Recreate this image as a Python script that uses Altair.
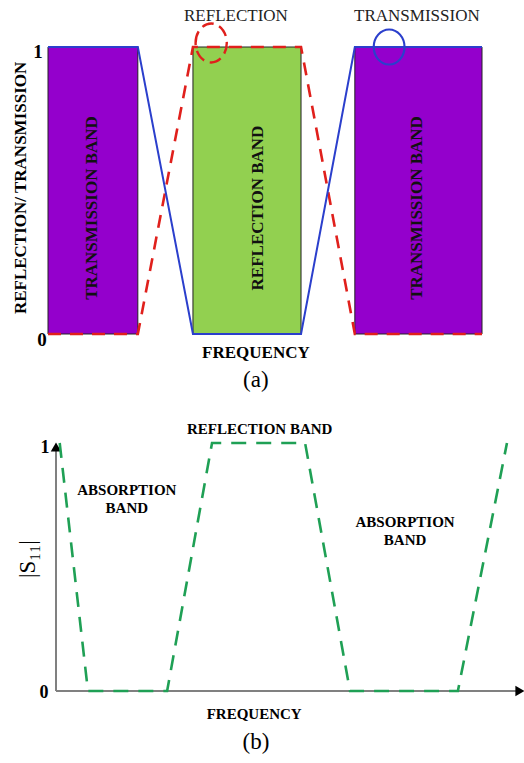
import altair as alt
import pandas as pd

FONT = "Liberation Serif"

# ---------- panel (a) data ----------
freq_a = [0, 2.07, 3.34, 5.83, 7.07, 10]
transmission = [1, 1, 0, 0, 1, 1]
reflection = [0, 0, 1, 1, 0, 0]

band_start = [0, 3.34, 7.07]
band_end = [2.07, 5.83, 10]
band_label = ["TRANSMISSION BAND", "REFLECTION BAND", "TRANSMISSION BAND"]
band_label_x = [1.01, 4.84, 8.50]
band_color = ["#9400CC", "#92D050", "#9400CC"]

# ---------- panel (b) data ----------
freq_b = [0.08, 0.69, 2.4, 3.37, 5.38, 6.35, 8.68, 9.74]
s11 = [1, 0, 0, 1, 1, 0, 0, 1]

# scales (data units -> panel areas)
sxa = alt.Scale(domain=[0, 10], range=[48, 482], nice=False, zero=False)
sya = alt.Scale(domain=[0, 1], range=[334, 47], nice=False, zero=False)
sxb = alt.Scale(domain=[0, 10], range=[56, 519], nice=False, zero=False)
syb = alt.Scale(domain=[0, 1], range=[691, 443], nice=False, zero=False)


def X(field, s):
    return alt.X(field, type="quantitative", scale=s, axis=None)


def Y(field, s):
    return alt.Y(field, type="quantitative", scale=s, axis=None)


def text_layer(df, sx, sy, size, weight="bold", angle=0, color="black", baseline="middle"):
    kw = dict(font=FONT, fontSize=size, fontWeight=weight, color=color,
              align="center", baseline=baseline)
    if angle:
        kw["angle"] = angle
    return alt.Chart(df).mark_text(**kw).encode(
        x=X("x", sx), y=Y("y", sy), text="t:N")


df_bands = pd.DataFrame({"x0": band_start, "x1": band_end, "lab": band_label,
                         "lx": band_label_x, "c": band_color})
df_bands["y0"] = 0
df_bands["y1"] = 1

df_a = pd.DataFrame({"f": freq_a, "tr": transmission, "re": reflection,
                     "o": list(range(len(freq_a)))})
df_b = pd.DataFrame({"f": freq_b, "s": s11, "o": list(range(len(freq_b)))})

rects = alt.Chart(df_bands).mark_rect(stroke="#222222", strokeWidth=1).encode(
    x=X("x0", sxa), x2="x1", y=Y("y0", sya), y2="y1",
    color=alt.Color("c:N", scale=None))

band_text = alt.Chart(df_bands).mark_text(
    font=FONT, fontSize=17, fontWeight="bold", angle=270, color="#111111",
    align="center", baseline="middle").encode(
    x=X("lx", sxa), y=alt.Y("ly:Q", scale=sya, axis=None), text="lab:N"
).transform_calculate(ly="0.439")

red_line = alt.Chart(df_a).mark_line(color="#E0201C", strokeWidth=2.6,
                                     strokeDash=[13, 9]).encode(
    x=X("f", sxa), y=Y("re", sya), order="o:Q")
blue_line = alt.Chart(df_a).mark_line(color="#2B3FCC", strokeWidth=2).encode(
    x=X("f", sxa), y=Y("tr", sya), order="o:Q")

ell_red = "M -0.8 0 A 0.8 1 0 1 1 0.8 0 A 0.8 1 0 1 1 -0.8 0 Z"
ell_blue = "M -0.88 0 A 0.88 1 0 1 1 0.88 0 A 0.88 1 0 1 1 -0.88 0 Z"
red_circ = alt.Chart(pd.DataFrame({"x": [3.76], "y": [1.014]})).mark_point(
    shape=ell_red, size=1520, filled=False, color="#E0201C", strokeWidth=2.4,
    strokeDash=[12, 6], opacity=1).encode(x=X("x", sxa), y=Y("y", sya))
blue_circ = alt.Chart(pd.DataFrame({"x": [7.86], "y": [1.0]})).mark_point(
    shape=ell_blue, size=1225, filled=False, color="#2B3FCC", strokeWidth=2.2,
    opacity=1).encode(x=X("x", sxa), y=Y("y", sya))

top_labels = text_layer(pd.DataFrame({"x": [4.33, 8.50], "y": [1.108, 1.108],
                                      "t": ["REFLECTION", "TRANSMISSION"]}),
                        sxa, sya, 17, weight="normal", color="#222222")
ytitle_a = text_layer(pd.DataFrame({"x": [-0.622], "y": [0.509],
                                    "t": ["REFLECTION/ TRANSMISSION"]}),
                      sxa, sya, 17, angle=270)
yticks_a = text_layer(pd.DataFrame({"x": [-0.23, -0.14], "y": [0.981, -0.021],
                                    "t": ["1", "0"]}), sxa, sya, 19)
xtitle_a = text_layer(pd.DataFrame({"x": [4.79], "y": [-0.066], "t": ["FREQUENCY"]}),
                      sxa, sya, 17)
cap_a = text_layer(pd.DataFrame({"x": [4.79], "y": [-0.16], "t": ["(a)"]}),
                   sxa, sya, 23, weight="normal")

# ---------- panel (b) ----------
yaxis_b = alt.Chart(pd.DataFrame({"x": [0], "y": [0], "y2": [0.97]})).mark_rule(
    color="#808080", strokeWidth=2).encode(x=X("x", sxb), y=Y("y", syb), y2="y2")
xaxis_b = alt.Chart(pd.DataFrame({"x": [0], "x2": [9.95], "y": [0]})).mark_rule(
    color="#808080", strokeWidth=2).encode(x=X("x", sxb), x2="x2", y=Y("y", syb))
arrow_up = alt.Chart(pd.DataFrame({"x": [0], "y": [0.984]})).mark_point(
    shape="triangle-up", filled=True, color="black", size=110, opacity=1).encode(
    x=X("x", sxb), y=Y("y", syb))
arrow_right = alt.Chart(pd.DataFrame({"x": [10.02], "y": [0]})).mark_point(
    shape="triangle-right", filled=True, color="black", size=110, opacity=1).encode(
    x=X("x", sxb), y=Y("y", syb))

green_line = alt.Chart(df_b).mark_line(color="#1FA055", strokeWidth=2.6,
                                       strokeDash=[15, 10]).encode(
    x=X("f", sxb), y=Y("s", syb), order="o:Q")

b_texts = text_layer(pd.DataFrame({
    "x": [4.40, 1.53, 1.53, 7.54, 7.54],
    "y": [1.056, 0.81, 0.738, 0.681, 0.609],
    "t": ["REFLECTION BAND", "ABSORPTION", "BAND", "ABSORPTION", "BAND"]}),
    sxb, syb, 15)
yticks_b = text_layer(pd.DataFrame({"x": [-0.24, -0.26], "y": [0.98, -0.008],
                                    "t": ["1", "0"]}), sxb, syb, 18)
ytitle_b = text_layer(pd.DataFrame({"x": [-0.605], "y": [0.532], "t": ["|S₁₁|"]}),
                      sxb, syb, 23, weight="normal", angle=270)
xtitle_b = text_layer(pd.DataFrame({"x": [4.28], "y": [-0.093], "t": ["FREQUENCY"]}),
                      sxb, syb, 15)
cap_b = text_layer(pd.DataFrame({"x": [4.32], "y": [-0.206], "t": ["(b)"]}),
                   sxb, syb, 23, weight="normal")

chart = alt.layer(
    rects, band_text, red_line, blue_line, red_circ, blue_circ,
    top_labels, ytitle_a, yticks_a, xtitle_a, cap_a,
    yaxis_b, xaxis_b, arrow_up, arrow_right, green_line,
    b_texts, yticks_b, ytitle_b, xtitle_b, cap_b,
).resolve_scale(x="independent", y="independent", color="independent").properties(
    width=524, height=763, padding=0, autosize=alt.AutoSizeParams(type="none"),
    background="white"
).configure_view(strokeWidth=0)

chart.save("out.html", embed_options={"renderer": "svg", "actions": False})
